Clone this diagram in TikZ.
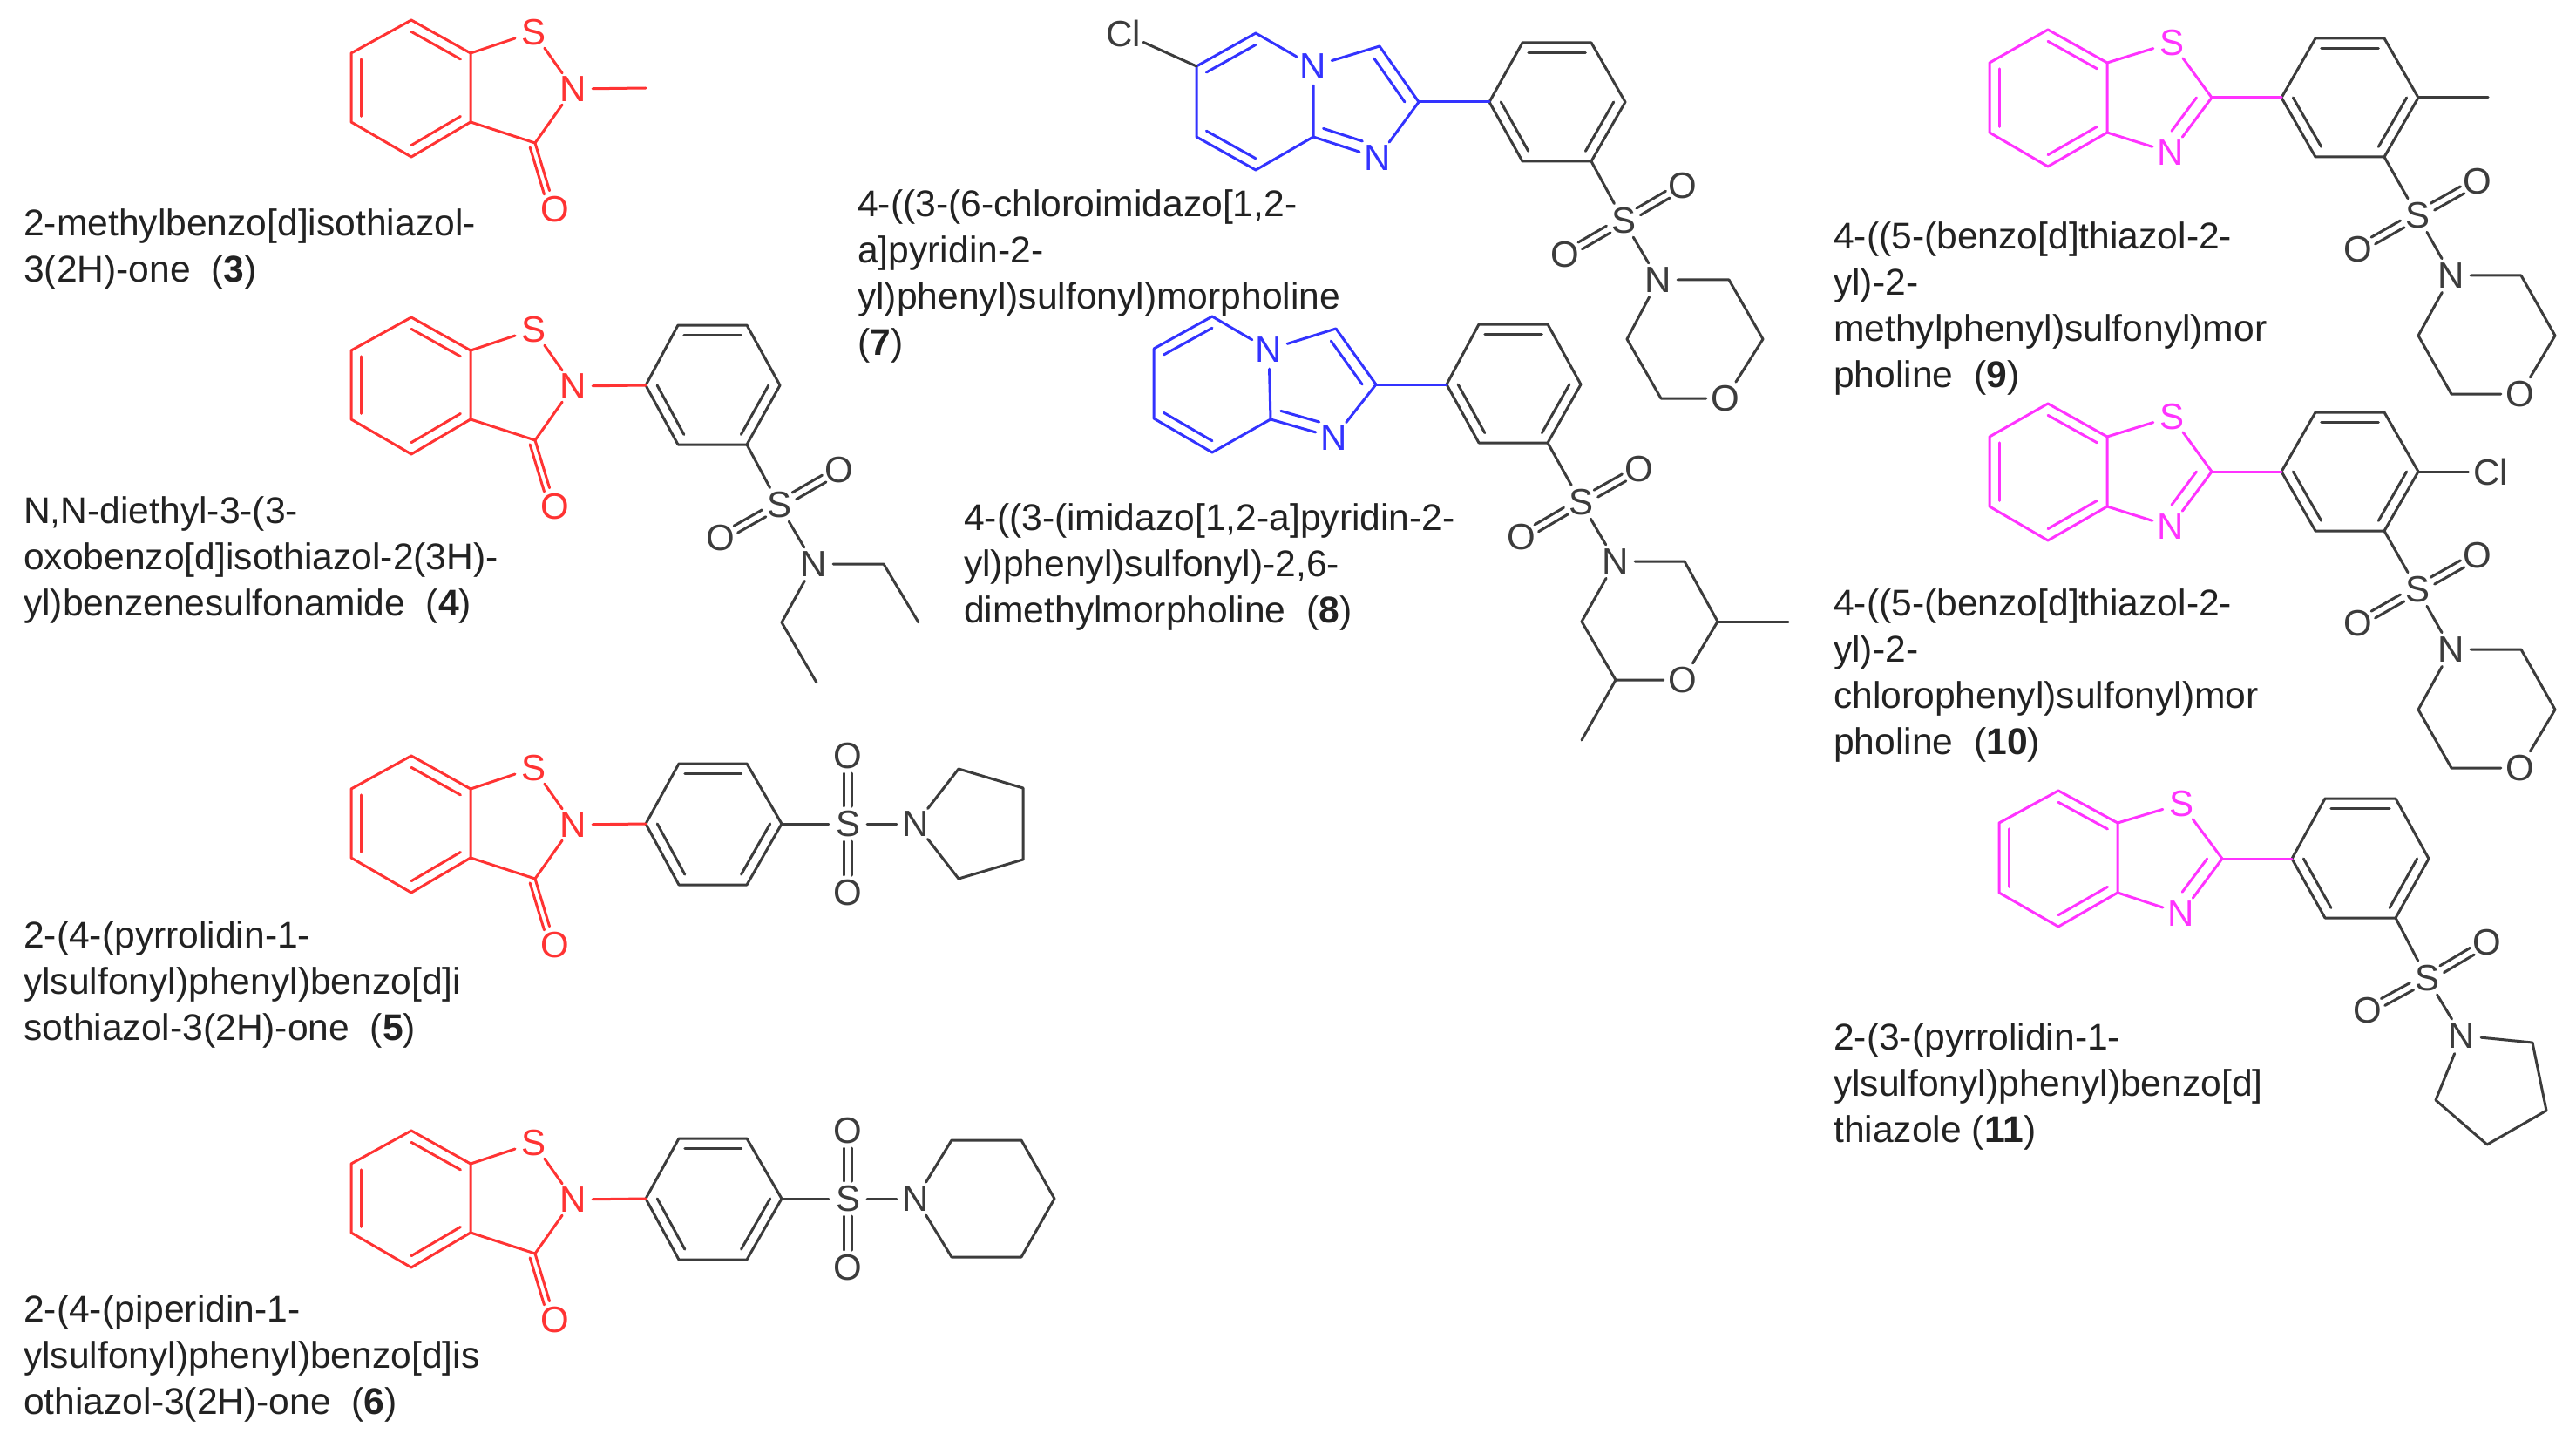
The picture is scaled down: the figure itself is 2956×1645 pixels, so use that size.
\documentclass[tikz,border=0pt]{standalone}
\usepackage{fontspec}
\setmainfont{Liberation Sans}
\usetikzlibrary{calc}
\definecolor{molred}{HTML}{FF3333}
\definecolor{molblue}{HTML}{3333FF}
\definecolor{molpink}{HTML}{FF33FF}
\definecolor{molgray}{HTML}{3C3C3C}
\definecolor{captext}{HTML}{222222}
\tikzset{
  bond/.style={line width=3pt,line join=round,line cap=round},
  atom/.style={circle,inner sep=0pt,minimum size=44pt,font=\fontsize{42}{42}\selectfont},
  captionbox/.style={anchor=north west,inner sep=0pt,align=left,text=captext,font=\fontsize{42.6}{53}\selectfont},
}
\newcommand\cpt[3]{\coordinate (#1) at (#2,#3);}
\newcommand\dbl[3]{\draw[bond] ($(#1)!.17!(#3)$) -- ($(#2)!.17!(#3)$);}
\newcommand\dblat[3]{\draw[bond,shorten >=12pt] ($(#1)!.24!(#3)$) -- ($(#2)!.24!(#3)$);}
\newcommand\dblo[2]{%
  \draw[bond,shorten <=20pt,shorten >=20pt] ($(#1)!4.5pt!90:(#2)$) -- ($(#2)!4.5pt!-90:(#1)$);
  \draw[bond,shorten <=20pt,shorten >=20pt] ($(#1)!4.5pt!-90:(#2)$) -- ($(#2)!4.5pt!90:(#1)$);}
\newcommand\carbonyl[2]{%
  \draw[bond] (#1) -- (#2);
  \draw[bond,shorten <=3pt,shorten >=20pt] ($(#1)!7pt!-90:(#2)$) -- ($(#2)!7pt!90:(#1)$);}
% fused benzene ring: prefix, xl xm xr, yt y1 y2 yb
\newcommand\benzo[8]{%
  \cpt{#1t}{#3}{#5}\cpt{#1ul}{#2}{#6}\cpt{#1ll}{#2}{#7}\cpt{#1b}{#3}{#8}\cpt{#1lr}{#4}{#7}\cpt{#1ur}{#4}{#6}
  \coordinate (#1c) at ($(#1t)!.5!(#1b)$);
  \draw[bond] (#1t) -- (#1ul) -- (#1ll) -- (#1b) -- (#1lr) -- (#1ur) -- cycle;
  \dbl{#1t}{#1ur}{#1c}\dbl{#1ul}{#1ll}{#1c}\dbl{#1b}{#1lr}{#1c}}
% phenyl ring: prefix, xl xa xb xr, yt ym yb
\newcommand\phen[8]{%
  \cpt{#1l}{#2}{#7}\cpt{#1ul}{#3}{#6}\cpt{#1ur}{#4}{#6}\cpt{#1r}{#5}{#7}\cpt{#1lr}{#4}{#8}\cpt{#1ll}{#3}{#8}
  \coordinate (#1c) at ($(#1l)!.5!(#1r)$);
  \draw[bond] (#1l) -- (#1ul) -- (#1ur) -- (#1r) -- (#1lr) -- (#1ll) -- cycle;
  \dbl{#1ul}{#1ur}{#1c}\dbl{#1l}{#1ll}{#1c}\dbl{#1r}{#1lr}{#1c}}
% benzisothiazolone: prefix, dy
\newcommand\isoth[2]{%
  \begin{scope}[color=molred]
  \pgfmathsetmacro\dyy{#2}
  \benzo{#1}{403}{472}{540}{23+\dyy}{61+\dyy}{140+\dyy}{180+\dyy}
  \node[atom] (#1S) at (612,37+\dyy) {S};
  \node[atom] (#1N) at (658,102+\dyy) {N};
  \node[atom] (#1O) at (637,240+\dyy) {O};
  \cpt{#1k}{614}{164+\dyy}
  \draw[bond] (#1ur) -- (#1S);
  \draw[bond] (#1S) -- (#1N);
  \draw[bond] (#1N) -- (#1k) -- (#1lr);
  \carbonyl{#1k}{#1O}
  \end{scope}}
% benzothiazole: prefix, dy
\newcommand\bthz[2]{%
  \begin{scope}[color=molpink]
  \pgfmathsetmacro\dyy{#2}
  \benzo{#1}{2283}{2350}{2418}{34+\dyy}{72+\dyy}{152+\dyy}{191+\dyy}
  \node[atom] (#1S) at (2492,49+\dyy) {S};
  \node[atom] (#1N) at (2491,175+\dyy) {N};
  \cpt{#1k}{2538}{112+\dyy}
  \cpt{#1f}{2465}{112+\dyy}
  \draw[bond] (#1ur) -- (#1S);
  \draw[bond] (#1S) -- (#1k);
  \draw[bond] (#1k) -- (#1N);
  \draw[bond] (#1N) -- (#1lr);
  \dblat{#1k}{#1N}{#1f}
  \end{scope}}
% sulfonyl: prefix, S, O1, O2
\newcommand\sulf[7]{%
  \node[atom] (#1S) at (#2,#3) {S};
  \node[atom] (#1Oa) at (#4,#5) {O};
  \node[atom] (#1Ob) at (#6,#7) {O};
  \dblo{#1S}{#1Oa}\dblo{#1S}{#1Ob}}
\begin{document}
\begin{tikzpicture}[x=1pt,y=-1pt]
\useasboundingbox[fill=white] (0,0) rectangle (2956,1645);

%%% 3
\isoth{a}{0}
\begin{scope}[color=molred]
\cpt{ame}{741}{101}
\draw[bond] (aN) -- (ame);
\end{scope}
\node[captionbox] (c3) at (27,239) {2-methylbenzo[d]isothiazol-\\3(2H)-one\ \ (\textbf{3})};

%%% 4
\isoth{b}{341}
\begin{scope}[color=molgray]
\phen{bp}{741}{778}{857}{895}{373}{442}{510}
\sulf{bs}{894}{579}{963}{539}{827}{617}
\node[atom] (bsN) at (934,647) {N};
\cpt{be1}{1014}{647}\cpt{be2}{1054}{714}\cpt{be3}{897}{714}\cpt{be4}{937}{783}
\draw[bond] (bplr) -- (bsS);
\draw[bond] (bsS) -- (bsN);
\draw[bond] (bsN) -- (be1) -- (be2);
\draw[bond] (bsN) -- (be3) -- (be4);
\end{scope}
\draw[bond,color=molred] (bN) -- (bpl);
\node[captionbox] (c4) at (27,569) {N,N-diethyl-3-(3-\\oxobenzo[d]isothiazol-2(3H)-\\yl)benzenesulfonamide\ \ (\textbf{4})};

%%% 5
\isoth{c}{844}
\begin{scope}[color=molgray]
\phen{cp}{741}{779}{857}{897}{876}{945}{1015}
\sulf{cs}{973}{945}{973}{867}{973}{1024}
\node[atom] (csN) at (1051,945) {N};
\cpt{cr1}{1100}{882}\cpt{cr2}{1174}{904}\cpt{cr3}{1174}{986}\cpt{cr4}{1100}{1008}
\draw[bond] (cpr) -- (csS);
\draw[bond] (csS) -- (csN);
\draw[bond] (csN) -- (cr1) -- (cr2) -- (cr3) -- (cr4) -- (csN);
\end{scope}
\draw[bond,color=molred] (cN) -- (cpl);
\node[captionbox] (c5) at (27,1056) {2-(4-(pyrrolidin-1-\\ylsulfonyl)phenyl)benzo[d]i\\sothiazol-3(2H)-one\ \ (\textbf{5})};

%%% 6
\isoth{d}{1274}
\begin{scope}[color=molgray]
\phen{dp}{741}{779}{857}{897}{1306}{1375}{1445}
\sulf{ds}{973}{1375}{973}{1297}{973}{1454}
\node[atom] (dsN) at (1051,1375) {N};
\cpt{dr1}{1092}{1308}\cpt{dr2}{1172}{1308}\cpt{dr3}{1210}{1375}\cpt{dr4}{1172}{1442}\cpt{dr5}{1092}{1442}
\draw[bond] (dpr) -- (dsS);
\draw[bond] (dsS) -- (dsN);
\draw[bond] (dsN) -- (dr1) -- (dr2) -- (dr3) -- (dr4) -- (dr5) -- (dsN);
\end{scope}
\draw[bond,color=molred] (dN) -- (dpl);
\node[captionbox] (c6) at (27,1485) {2-(4-(piperidin-1-\\ylsulfonyl)phenyl)benzo[d]is\\othiazol-3(2H)-one\ \ (\textbf{6})};

%%% 7
\begin{scope}[color=molblue]
\cpt{e6}{1373}{76}\cpt{e5}{1441}{38}\cpt{e8a}{1507}{157}\cpt{e8}{1441}{195}\cpt{e7}{1373}{157}
\cpt{e3}{1583}{53}\cpt{e2}{1628}{117}
\node[atom] (eN) at (1507,76) {N};
\node[atom] (eNb) at (1581,181) {N};
\coordinate (epc) at (1440,117);
\coordinate (eic) at (1555,117);
\draw[bond] (e6) -- (e5) -- (eN) -- (e8a) -- (e8) -- (e7) -- (e6);
\draw[bond] (eN) -- (e3) -- (e2) -- (eNb) -- (e8a);
\dbl{e6}{e5}{epc}\dbl{e7}{e8}{epc}
\draw[bond] ($(e3)!.22!(eic)$) -- ($(e2)!.22!(eic)$);
\dblat{e8a}{eNb}{eic}
\end{scope}
\begin{scope}[color=molgray]
\node[atom] (eCl) at (1289,38) {Cl};
\draw[bond] (eCl) -- (e6);
\phen{ep}{1709}{1747}{1826}{1865}{49}{117}{185}
\sulf{es}{1863}{253}{1931}{213}{1796}{292}
\node[atom] (esN) at (1903,321) {N};
\node[atom] (esO) at (1980,457) {O};
\cpt{em1}{1984}{321}\cpt{em2}{2023}{389}\cpt{em3}{1906}{457}\cpt{em4}{1867}{389}
\draw[bond] (eplr) -- (esS);
\draw[bond] (esS) -- (esN);
\draw[bond] (esN) -- (em1) -- (em2) -- (esO) -- (em3) -- (em4) -- (esN);
\end{scope}
\draw[bond,color=molblue] (e2) -- (epl);
\node[captionbox] (c7) at (984,217) {4-((3-(6-chloroimidazo[1,2-\\a]pyridin-2-\\yl)phenyl)sulfonyl)morpholine\\(\textbf{7})};

%%% 8
\begin{scope}[color=molblue]
\cpt{f5}{1391}{363}\cpt{f6}{1324}{400}\cpt{f7}{1324}{480}\cpt{f8}{1391}{519}\cpt{f8a}{1458}{481}
\cpt{f3}{1533}{377}\cpt{f2}{1579}{441}
\node[atom] (fN) at (1456,401) {N};
\node[atom] (fNb) at (1531,502) {N};
\coordinate (fpc) at (1391,441);
\coordinate (fic) at (1507,441);
\draw[bond] (f6) -- (f5) -- (fN) -- (f8a) -- (f8) -- (f7) -- (f6);
\draw[bond] (fN) -- (f3) -- (f2) -- (fNb) -- (f8a);
\dbl{f6}{f5}{fpc}\dbl{f7}{f8}{fpc}
\draw[bond] ($(f3)!.22!(fic)$) -- ($(f2)!.22!(fic)$);
\dblat{f8a}{fNb}{fic}
\end{scope}
\begin{scope}[color=molgray]
\phen{fp}{1660}{1697}{1776}{1814}{372}{441}{508}
\sulf{fs}{1814}{576}{1881}{538}{1746}{616}
\node[atom] (fsN) at (1854,644) {N};
\node[atom] (fsO) at (1931,780) {O};
\cpt{fm1}{1933}{644}\cpt{fm2}{1971}{713}\cpt{fme}{2052}{713}\cpt{fm3}{1854}{780}\cpt{fmf}{1815}{849}\cpt{fm4}{1815}{713}
\draw[bond] (fplr) -- (fsS);
\draw[bond] (fsS) -- (fsN);
\draw[bond] (fsN) -- (fm1) -- (fm2) -- (fsO) -- (fm3) -- (fm4) -- (fsN);
\draw[bond] (fm2) -- (fme);
\draw[bond] (fm3) -- (fmf);
\end{scope}
\draw[bond,color=molblue] (f2) -- (fpl);
\node[captionbox] (c8) at (1106,577) {4-((3-(imidazo[1,2-a]pyridin-2-\\yl)phenyl)sulfonyl)-2,6-\\dimethylmorpholine\ \ (\textbf{8})};

%%% 9
\bthz{g}{0}
\begin{scope}[color=molgray]
\phen{gp}{2618}{2657}{2736}{2775}{44}{112}{180}
\sulf{gs}{2774}{247}{2843}{208}{2706}{286}
\node[atom] (gsN) at (2813,316) {N};
\node[atom] (gsO) at (2892,452) {O};
\cpt{gme}{2855}{112}
\cpt{gm1}{2893}{316}\cpt{gm2}{2932}{385}\cpt{gm3}{2813}{452}\cpt{gm4}{2775}{385}
\draw[bond] (gpr) -- (gme);
\draw[bond] (gplr) -- (gsS);
\draw[bond] (gsS) -- (gsN);
\draw[bond] (gsN) -- (gm1) -- (gm2) -- (gsO) -- (gm3) -- (gm4) -- (gsN);
\end{scope}
\draw[bond,color=molpink] (gk) -- (gpl);
\node[captionbox] (c9) at (2104,254) {4-((5-(benzo[d]thiazol-2-\\yl)-2-\\methylphenyl)sulfonyl)mor\\pholine\ \ (\textbf{9})};

%%% 10
\bthz{h}{429}
\begin{scope}[color=molgray]
\phen{hp}{2618}{2657}{2736}{2775}{473}{541}{609}
\sulf{hs}{2774}{676}{2843}{637}{2706}{715}
\node[atom] (hsN) at (2813,745) {N};
\node[atom] (hsO) at (2892,881) {O};
\node[atom] (hCl) at (2858,541) {Cl};
\cpt{hm1}{2893}{745}\cpt{hm2}{2932}{814}\cpt{hm3}{2813}{881}\cpt{hm4}{2775}{814}
\draw[bond] (hpr) -- (hCl);
\draw[bond] (hplr) -- (hsS);
\draw[bond] (hsS) -- (hsN);
\draw[bond] (hsN) -- (hm1) -- (hm2) -- (hsO) -- (hm3) -- (hm4) -- (hsN);
\end{scope}
\draw[bond,color=molpink] (hk) -- (hpl);
\node[captionbox] (c10) at (2104,675) {4-((5-(benzo[d]thiazol-2-\\yl)-2-\\chlorophenyl)sulfonyl)mor\\pholine\ \ (\textbf{10})};

%%% 11
\begin{scope}[color=molpink]
\benzo{i}{2294}{2362}{2430}{907}{944}{1024}{1063}
\node[atom] (iS) at (2503,922) {S};
\node[atom] (iN) at (2503,1048) {N};
\cpt{ik}{2550}{985}
\cpt{if}{2478}{985}
\draw[bond] (iur) -- (iS);
\draw[bond] (iS) -- (ik);
\draw[bond] (ik) -- (iN);
\draw[bond] (iN) -- (ilr);
\dblat{ik}{iN}{if}
\end{scope}
\begin{scope}[color=molgray]
\phen{ip}{2630}{2668}{2749}{2787}{916}{985}{1053}
\sulf{is}{2785}{1122}{2854}{1081}{2717}{1159}
\node[atom] (isN) at (2825,1188) {N};
\cpt{ir1}{2906}{1196}\cpt{ir2}{2922}{1274}\cpt{ir3}{2854}{1313}\cpt{ir4}{2795}{1262}
\draw[bond] (iplr) -- (isS);
\draw[bond] (isS) -- (isN);
\draw[bond] (isN) -- (ir1) -- (ir2) -- (ir3) -- (ir4) -- (isN);
\end{scope}
\draw[bond,color=molpink] (ik) -- (ipl);
\node[captionbox] (c11) at (2104,1173) {2-(3-(pyrrolidin-1-\\ylsulfonyl)phenyl)benzo[d]\\thiazole (\textbf{11})};
\end{tikzpicture}
\end{document}
